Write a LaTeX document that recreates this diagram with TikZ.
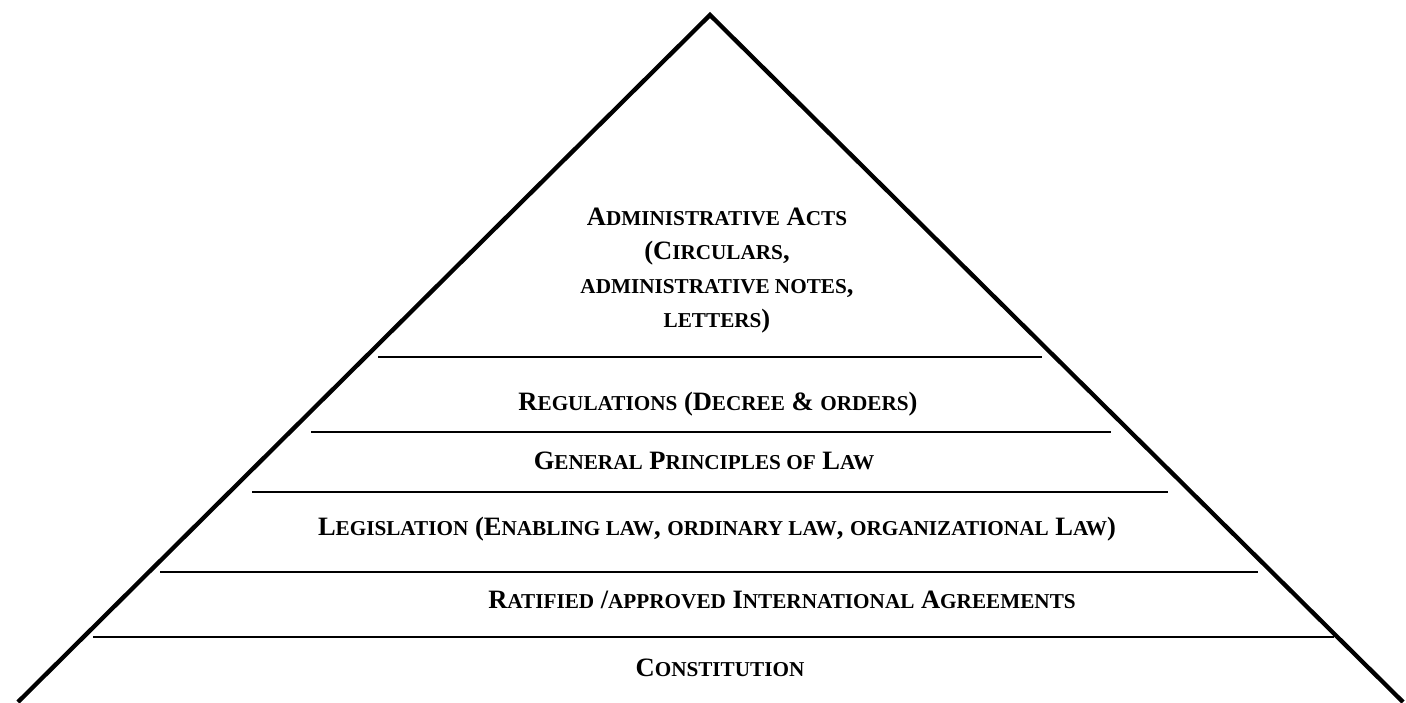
\documentclass[tikz,border=0pt]{standalone}
\usepackage{fontspec}
\setmainfont{Liberation Serif}
\newcommand\smc[1]{{\fontsize{21.2pt}{34pt}\selectfont #1}}
\tikzset{
  x=1pt, y=-1pt,
  side/.style={line width=4.3pt, line join=miter},
  tier/.style={line width=2pt},
  lbl/.style={inner sep=0pt, anchor=base, font=\bfseries\fontsize{26.5pt}{34pt}\selectfont, align=center}
}
\begin{document}
\begin{tikzpicture}
\useasboundingbox (0,0) rectangle (1406,702);
\coordinate (apex) at (710,15);
\coordinate (bl) at (18,702);
\coordinate (br) at (1403,702);
\draw[side] (bl) -- (apex) -- (br);
% tier lines
\coordinate (l1a) at (378,357); \coordinate (l1b) at (1042,357);
\coordinate (l2a) at (311,432); \coordinate (l2b) at (1111,432);
\coordinate (l3a) at (252,492); \coordinate (l3b) at (1168,492);
\coordinate (l4a) at (160,572); \coordinate (l4b) at (1258,572);
\coordinate (l5a) at (93,637);  \coordinate (l5b) at (1334,637);
\draw[tier] (l1a) -- (l1b);
\draw[tier] (l2a) -- (l2b);
\draw[tier] (l3a) -- (l3b);
\draw[tier] (l4a) -- (l4b);
\draw[tier] (l5a) -- (l5b);
% labels
\node[lbl] (admin) at (717,327) {A\smc{DMINISTRATIVE} A\smc{CTS}\\(C\smc{IRCULARS},\\\smc{ADMINISTRATIVE NOTES},\\\smc{LETTERS})};
\node[lbl] (reg) at (718,410) {R\smc{EGULATIONS} (D\smc{ECREE} \& \smc{ORDERS})};
\node[lbl] (gen) at (704,469) {G\smc{ENERAL} P\smc{RINCIPLES OF} L\smc{AW}};
\node[lbl] (leg) at (717,535) {L\smc{EGISLATION} (E\smc{NABLING LAW}, \smc{ORDINARY LAW}, \smc{ORGANIZATIONAL} L\smc{AW})};
\node[lbl] (rat) at (782,608) {R\smc{ATIFIED} /\smc{APPROVED} I\smc{NTERNATIONAL} A\smc{GREEMENTS}};
\node[lbl] (con) at (720,676) {C\smc{ONSTITUTION}};
\end{tikzpicture}
\end{document}
